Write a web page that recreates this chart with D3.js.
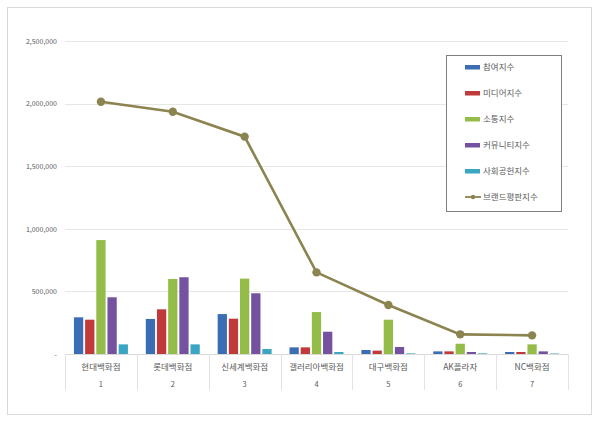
<!DOCTYPE html>
<html>
<head>
<meta charset="utf-8">
<script src="https://cdn.jsdelivr.net/npm/d3@7"></script>
<style>
  body { margin: 0; background: #fff; }
  svg text { font-family: "Noto Sans CJK KR", "Noto Sans", sans-serif; fill: #595959; }
</style>
</head>
<body>
<div id="chart"></div>
<script>
const categories = ['현대백화점', '롯데백화점', '신세계백화점', '갤러리아백화점', '대구백화점', 'AK플라자', 'NC백화점'];
const ranks = ['1', '2', '3', '4', '5', '6', '7'];
const seriesNames = ['참여지수', '미디어지수', '소통지수', '커뮤니티지수', '사회공헌지수'];
const participation = [293000, 280000, 319000, 53000, 32000, 21000, 16000];
const media = [274000, 357000, 282000, 53000, 27000, 21000, 16000];
const communication = [910000, 599000, 602000, 335000, 274000, 82000, 77000];
const community = [453000, 613000, 485000, 178000, 56000, 16000, 21000];
const social = [77000, 77000, 40000, 16000, 5000, 5000, 4000];
const brandIndex = [2015000, 1935000, 1736000, 652000, 391000, 157000, 149000];
const lineName = '브랜드평판지수';
const yTicks = [0, 500000, 1000000, 1500000, 2000000, 2500000];
const yTickLabels = ['-', '500,000', '1,000,000', '1,500,000', '2,000,000', '2,500,000'];

const colors = ['#3b6db5', '#c0393b', '#93bd48', '#7552a0', '#3aa6c4'];
const lineColor = '#8b8450';

const width = 600, height = 424;
const svg = d3.select('#chart').append('svg')
    .attr('width', width)
    .attr('height', height);

// outer frame
svg.append('rect')
    .attr('x', 7.5).attr('y', 7.5)
    .attr('width', 584).attr('height', 407)
    .attr('fill', '#fff')
    .attr('stroke', '#d9d9d9');

const plotLeft = 65, plotRight = 568, plotTop = 41, plotBottom = 354;

const x0 = d3.scaleBand().domain(categories).range([plotLeft, plotRight]);
const x1 = d3.scaleBand().domain(seriesNames).range([0, x0.bandwidth()])
    .paddingInner(0.17).paddingOuter(0.8);
const y = d3.scaleLinear().domain([0, 2500000]).range([plotBottom, plotTop]);

// gridlines
svg.append('g')
    .selectAll('line')
    .data(yTicks.slice(1))
    .enter().append('line')
    .attr('x1', plotLeft).attr('x2', plotRight)
    .attr('y1', d => Math.round(y(d)) + 0.5)
    .attr('y2', d => Math.round(y(d)) + 0.5)
    .attr('stroke', '#e6e6e6');

// y axis labels
const yAxis = d3.axisLeft(y).tickValues(yTicks)
    .tickFormat((d, i) => yTickLabels[i]).tickSize(0).tickPadding(8);
const yg = svg.append('g')
    .attr('transform', `translate(${plotLeft},0)`)
    .call(yAxis);
yg.select('.domain').remove();
yg.selectAll('text').style('font-size', '7px').style('fill', '#595959');

// category axis
svg.append('line')
    .attr('x1', plotLeft).attr('x2', plotRight)
    .attr('y1', plotBottom + 0.5).attr('y2', plotBottom + 0.5)
    .attr('stroke', '#d9d9d9');

const edges = categories.map(c => x0(c)).concat([plotRight]);
svg.append('g')
    .selectAll('line')
    .data(edges)
    .enter().append('line')
    .attr('x1', d => Math.round(d) + 0.5)
    .attr('x2', d => Math.round(d) + 0.5)
    .attr('y1', plotBottom).attr('y2', 390)
    .attr('stroke', '#e3e3e3');

svg.append('g')
    .selectAll('text')
    .data(categories)
    .enter().append('text')
    .attr('x', d => x0(d) + x0.bandwidth() / 2)
    .attr('y', 370)
    .attr('text-anchor', 'middle')
    .style('font-size', '8.5px')
    .text(d => d);

svg.append('g')
    .selectAll('text')
    .data(ranks)
    .enter().append('text')
    .attr('x', (d, i) => x0(categories[i]) + x0.bandwidth() / 2)
    .attr('y', 387)
    .attr('text-anchor', 'middle')
    .style('font-size', '7.5px')
    .text(d => d);

// bars
const seriesData = [participation, media, communication, community, social];
seriesData.forEach((values, s) => {
    svg.append('g')
        .selectAll('rect')
        .data(values)
        .enter().append('rect')
        .attr('x', (d, i) => x0(categories[i]) + x1(seriesNames[s]))
        .attr('y', d => y(d))
        .attr('width', x1.bandwidth())
        .attr('height', d => plotBottom - y(d))
        .attr('fill', colors[s]);
});

// brand index line
const line = d3.line()
    .x((d, i) => x0(categories[i]) + x0.bandwidth() / 2)
    .y(d => y(d));

svg.append('path')
    .datum(brandIndex)
    .attr('d', line)
    .attr('fill', 'none')
    .attr('stroke', lineColor)
    .attr('stroke-width', 2.6);

svg.append('g')
    .selectAll('circle')
    .data(brandIndex)
    .enter().append('circle')
    .attr('cx', (d, i) => x0(categories[i]) + x0.bandwidth() / 2)
    .attr('cy', d => y(d))
    .attr('r', 4.2)
    .attr('fill', lineColor);

// legend
const legend = svg.append('g').attr('transform', 'translate(446,55)');
legend.append('rect')
    .attr('x', 0.5).attr('y', 0.5)
    .attr('width', 115).attr('height', 156)
    .attr('fill', '#fff')
    .attr('stroke', '#7f7f7f');

const legendItems = seriesNames.concat([lineName]);
const item = legend.selectAll('.item')
    .data(legendItems)
    .enter().append('g')
    .attr('class', 'item')
    .attr('transform', (d, i) => `translate(19,${12 + i * 26})`);

item.filter((d, i) => i < 5).append('rect')
    .attr('x', 0).attr('y', -2)
    .attr('width', 15).attr('height', 4.5)
    .attr('fill', (d, i) => colors[i]);

const lineItem = item.filter((d, i) => i === 5);
lineItem.append('line')
    .attr('x1', 0).attr('x2', 16)
    .attr('y1', 0).attr('y2', 0)
    .attr('stroke', lineColor).attr('stroke-width', 1.8);
lineItem.append('circle')
    .attr('cx', 8).attr('cy', 0).attr('r', 2.2)
    .attr('fill', lineColor);

item.append('text')
    .attr('x', 18)
    .attr('y', 0)
    .attr('dy', '0.35em')
    .style('font-size', '8.5px')
    .text(d => d);
</script>
</body>
</html>
